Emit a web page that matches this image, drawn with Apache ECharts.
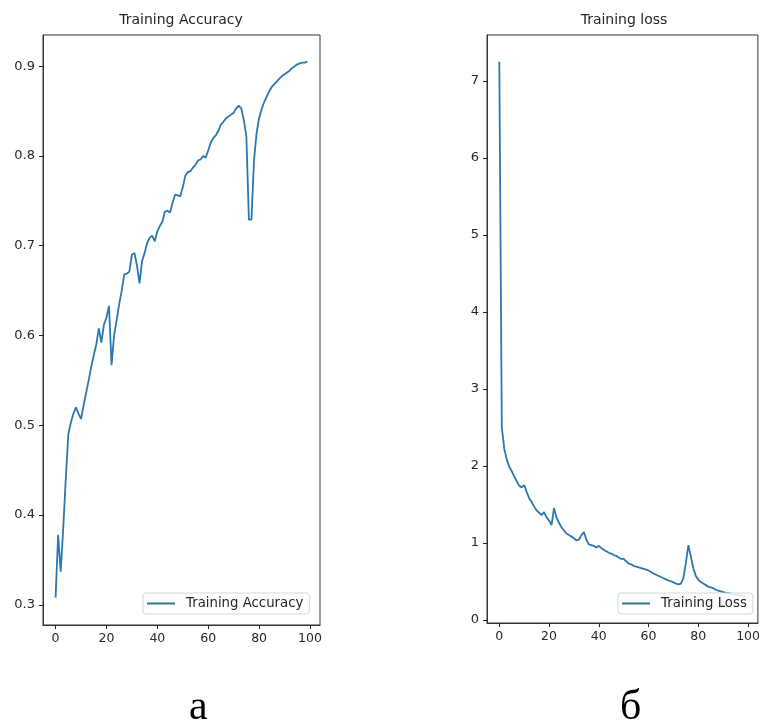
<!DOCTYPE html>
<html>
<head>
<meta charset="utf-8">
<script src="https://cdn.jsdelivr.net/npm/echarts@6/dist/echarts.min.js"></script>
<style>
html,body{margin:0;padding:0;background:#fff;}
#chart{width:763px;height:722px;}
</style>
</head>
<body>
<div id="chart"></div>
<script>
const epochs = Array.from({length: 100}, (_, i) => i);

const accuracy = [
  0.308, 0.378, 0.337, 0.385, 0.440, 0.490, 0.503, 0.513, 0.520, 0.513,
  0.507, 0.522, 0.536, 0.550, 0.565, 0.578, 0.590, 0.608, 0.592, 0.612,
  0.620, 0.633, 0.567, 0.600, 0.617, 0.635, 0.650, 0.668, 0.669, 0.671,
  0.690, 0.692, 0.678, 0.658, 0.683, 0.692, 0.703, 0.709, 0.711, 0.705,
  0.716, 0.722, 0.727, 0.738, 0.739, 0.737, 0.748, 0.757, 0.756, 0.755,
  0.765, 0.778, 0.782, 0.783, 0.787, 0.790, 0.795, 0.796, 0.800, 0.798,
  0.806, 0.815, 0.820, 0.823, 0.828, 0.835, 0.838, 0.842, 0.844, 0.846,
  0.848, 0.853, 0.856, 0.853, 0.840, 0.822, 0.729, 0.729, 0.795, 0.825,
  0.842, 0.852, 0.860, 0.866, 0.872, 0.877, 0.880, 0.883, 0.886, 0.889,
  0.891, 0.893, 0.895, 0.898, 0.900, 0.902, 0.903, 0.904, 0.904, 0.905
];

const loss = [
  7.25, 2.50, 2.22, 2.08, 1.99, 1.93, 1.86, 1.80, 1.74, 1.72,
  1.75, 1.66, 1.58, 1.53, 1.47, 1.42, 1.39, 1.36, 1.40, 1.33,
  1.29, 1.23, 1.45, 1.33, 1.26, 1.20, 1.16, 1.12, 1.10, 1.08,
  1.06, 1.03, 1.04, 1.10, 1.14, 1.04, 0.98, 0.97, 0.96, 0.94,
  0.96, 0.93, 0.91, 0.89, 0.87, 0.86, 0.84, 0.83, 0.81, 0.79,
  0.79, 0.76, 0.73, 0.72, 0.70, 0.69, 0.68, 0.67, 0.66, 0.65,
  0.64, 0.62, 0.60, 0.585, 0.57, 0.555, 0.54, 0.525, 0.51, 0.50,
  0.485, 0.47, 0.46, 0.47, 0.54, 0.74, 0.97, 0.82, 0.67, 0.57,
  0.52, 0.49, 0.47, 0.45, 0.43, 0.42, 0.41, 0.39, 0.38, 0.37,
  0.36, 0.35, 0.345, 0.34, 0.33, 0.325, 0.32, 0.315, 0.31, 0.305
];

const xTicks = [0, 20, 40, 60, 80, 100];
const accTicks = [0.3, 0.4, 0.5, 0.6, 0.7, 0.8, 0.9];
const lossTicks = [0, 1, 2, 3, 4, 5, 6, 7];
const titles = ['Training Accuracy', 'Training loss'];
const seriesNames = ['Training Accuracy', 'Training Loss'];
const panelLabels = ['а', 'б'];

const FONT = '"DejaVu Sans", sans-serif';
const LINE = '#2a78ae';
const TXT = '#262626';

function xAxisDef(gi) {
  return {
    type: 'value', gridIndex: gi, min: -4.95, max: 103.95, position: 'bottom',
    splitLine: {show: false},
    axisLine: {show: true, onZero: false, lineStyle: {color: '#333', width: 1}},
    axisTick: {show: true, inside: false, length: 4, lineStyle: {color: '#222', width: 1}, customValues: xTicks},
    axisLabel: {show: true, margin: 7, color: TXT, fontFamily: FONT, fontSize: 12.5, customValues: xTicks,
      formatter: v => String(Math.round(v))}
  };
}
function yAxisDef(gi, min, max, ticks, fmt) {
  return {
    type: 'value', gridIndex: gi, min: min, max: max, position: 'left',
    splitLine: {show: false},
    axisLine: {show: true, onZero: false, lineStyle: {color: '#333', width: 1}},
    axisTick: {show: true, inside: false, length: 4, lineStyle: {color: '#222', width: 1}, customValues: ticks},
    axisLabel: {show: true, margin: 8, color: TXT, fontFamily: FONT, fontSize: 13, customValues: ticks, formatter: fmt}
  };
}
function legendDef(name, left, top) {
  return {
    data: [{name: name, icon: 'rect', itemStyle: {color: '#2f7a78'}}],
    left: left, top: top,
    orient: 'horizontal',
    itemWidth: 28, itemHeight: 2,
    padding: [4, 6, 4, 4],
    backgroundColor: 'rgba(255,255,255,0.85)',
    borderColor: '#d6d6d6', borderWidth: 1, borderRadius: 3,
    textStyle: {color: TXT, fontFamily: FONT, fontSize: 13.3, padding: [0, 0, 0, 6]},
    selectedMode: false
  };
}

const chart = echarts.init(document.getElementById('chart'), null, {renderer: 'canvas'});
chart.setOption({
  animation: false,
  backgroundColor: '#fff',
  title: [
    {text: titles[0], left: 181, top: 13, textAlign: 'center', padding: 0,
      textStyle: {color: TXT, fontFamily: FONT, fontSize: 14, fontWeight: 'normal'}},
    {text: titles[1], left: 624, top: 13, textAlign: 'center', padding: 0,
      textStyle: {color: TXT, fontFamily: FONT, fontSize: 14, fontWeight: 'normal'}}
  ],
  grid: [
    {left: 43, top: 35, width: 277, height: 590, show: true, borderColor: '#333', borderWidth: 1, backgroundColor: '#fff'},
    {left: 487, top: 35, width: 275, height: 588, show: true, borderColor: '#333', borderWidth: 1, backgroundColor: '#fff'}
  ],
  xAxis: [xAxisDef(0), xAxisDef(1)],
  yAxis: [
    yAxisDef(0, 0.2775, 0.9347, accTicks, v => v.toFixed(1)),
    yAxisDef(1, -0.042, 7.597, lossTicks, v => String(Math.round(v)))
  ],
  legend: [legendDef(seriesNames[0], 143, 593), legendDef(seriesNames[1], 618, 593)],
  series: [
    {name: seriesNames[0], type: 'line', xAxisIndex: 0, yAxisIndex: 0, showSymbol: false, symbol: 'none',
      lineStyle: {color: LINE, width: 1.8}, itemStyle: {color: LINE},
      data: epochs.map((e, i) => [e, accuracy[i]])},
    {name: seriesNames[1], type: 'line', xAxisIndex: 1, yAxisIndex: 1, showSymbol: false, symbol: 'none',
      lineStyle: {color: LINE, width: 1.8}, itemStyle: {color: LINE},
      data: epochs.map((e, i) => [e, loss[i]])}
  ],
  graphic: [
    {type: 'text', left: 189, top: 687, style: {text: panelLabels[0], font: '42px "Liberation Serif", serif', fill: '#000'}},
    {type: 'text', left: 620, top: 687, style: {text: panelLabels[1], font: '42px "Liberation Serif", serif', fill: '#000'}}
  ]
});
</script>
</body>
</html>
